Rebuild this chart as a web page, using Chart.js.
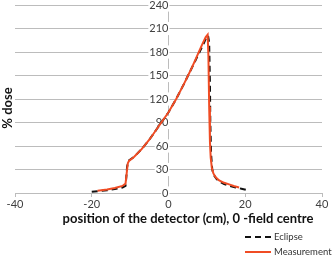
<!DOCTYPE html>
<html>
<head>
<meta charset="utf-8">
<script src="https://cdn.jsdelivr.net/npm/chart.js@4.4.1/dist/chart.umd.min.js"></script>
<style>
  html, body { margin: 0; padding: 0; background: #fff; }
  #wrap { width: 332px; height: 258px; position: relative; }
</style>
</head>
<body>
<div id="wrap"><canvas id="doseChart" width="332" height="258"></canvas></div>
<script>
// detector positions (cm) and % dose
const measPos = [-18.5, -16, -14, -12, -11.2, -10.9, -10.6, -10.3, -9, -7, -5, -3, -1, 0, 2, 4, 5, 6, 7, 8, 9, 9.7, 10.2, 10.4, 10.6, 10.8, 11.0, 11.3, 11.7, 12.3, 13.2, 14.5, 15.8, 17, 18.4];
const measDose = [3, 4.5, 6.5, 9, 12, 25, 38, 41, 46, 56, 68, 82, 96, 103, 120, 139, 149, 159, 170, 181, 192, 199, 202, 175, 110, 65, 45, 32, 25, 20, 16, 13, 11, 9, 7];

const eclPos = [-20, -18, -16, -14, -12, -11.2, -11.0, -10.8, -10.5, -9, -7, -5, -3, -1, 0, 2, 4, 6, 8, 9, 9.8, 10.3, 10.6, 10.8, 10.9, 11.1, 11.4, 11.8, 12.5, 13.2, 14.5, 16, 17.5, 19, 20.3];
const eclDose = [1.5, 2.5, 3.5, 5, 7, 9, 20, 33, 41, 46, 56, 68, 82, 96, 103, 120, 139, 159, 179, 189, 198, 201, 192, 140, 90, 50, 30, 23, 18, 14.5, 11.5, 9, 7, 5.5, 4];

const xTicks = [-40, -20, 0, 20, 40];
const yTicks = [0, 30, 60, 90, 120, 150, 180, 210, 240];

const xTitle = 'position of the detector (cm), 0 -field centre';
const yTitle = '% dose';
const seriesNames = ['Eclipse', 'Measurement'];

const RED = 'rgb(240, 76, 36)';
const GRID = '#bcbcbc';
const FONT = 'Lato, "Open Sans", sans-serif';

function toPoints(xs, ys) {
  return xs.map((x, i) => ({ x: x, y: ys[i] }));
}

// axis titles + legend drawn by hand, Excel style
const extras = {
  id: 'extras',
  afterDraw(chart) {
    const ctx = chart.ctx;
    ctx.save();
    ctx.fillStyle = '#111';
    ctx.font = 'bold 13px ' + FONT;
    ctx.textAlign = 'center';
    ctx.textBaseline = 'middle';
    ctx.fillText(xTitle, 188, 219);

    ctx.translate(8, 108);
    ctx.rotate(-Math.PI / 2);
    ctx.fillText(yTitle, 0, 0);
    ctx.restore();

    // legend
    ctx.save();
    ctx.lineWidth = 2;
    ctx.strokeStyle = '#111';
    ctx.setLineDash([6, 4]);
    ctx.beginPath();
    ctx.moveTo(245, 237);
    ctx.lineTo(271, 237);
    ctx.stroke();
    ctx.setLineDash([]);
    ctx.strokeStyle = RED;
    ctx.beginPath();
    ctx.moveTo(245, 252);
    ctx.lineTo(271, 252);
    ctx.stroke();
    ctx.fillStyle = '#333';
    ctx.font = '9.5px ' + FONT;
    ctx.textAlign = 'left';
    ctx.textBaseline = 'middle';
    ctx.fillText(seriesNames[0], 274, 237);
    ctx.fillText(seriesNames[1], 274, 252);
    ctx.restore();
  }
};

const ctx = document.getElementById('doseChart').getContext('2d');
new Chart(ctx, {
  type: 'line',
  data: {
    datasets: [
      {
        label: seriesNames[0],
        data: toPoints(eclPos, eclDose),
        borderColor: '#111',
        borderWidth: 2,
        borderDash: [6, 4],
        pointRadius: 0,
        tension: 0,
        order: 1
      },
      {
        label: seriesNames[1],
        data: toPoints(measPos, measDose),
        borderColor: RED,
        borderWidth: 2,
        pointRadius: 0,
        tension: 0,
        order: 0
      }
    ]
  },
  options: {
    responsive: false,
    animation: false,
    layout: { padding: { left: 15, right: 10, top: 5, bottom: 0 } },
    plugins: {
      legend: { display: false },
      tooltip: { enabled: false }
    },
    scales: {
      x: {
        type: 'linear',
        min: -40,
        max: 40,
        afterBuildTicks(scale) { scale.ticks = xTicks.map(v => ({ value: v })); },
        afterFit(scale) { scale.height = 65; },
        grid: { drawOnChartArea: false, drawTicks: true, tickLength: 4, color: GRID },
        border: { color: GRID },
        ticks: { color: '#404040', font: { family: FONT, size: 11 }, padding: 1, maxRotation: 0 }
      },
      y: {
        type: 'linear',
        position: { x: 0 },
        min: 0,
        max: 240,
        afterBuildTicks(scale) { scale.ticks = yTicks.map(v => ({ value: v })); },
        afterFit(scale) { scale.paddingTop = 0; scale.paddingBottom = 0; },
        grid: { color: GRID, drawTicks: false },
        border: { color: GRID },
        ticks: {
          color: '#404040',
          font: { family: FONT, size: 11 },
          padding: 8,
          showLabelBackdrop: true,
          backdropColor: '#fff',
          backdropPadding: { top: 0, bottom: 0, left: 1, right: 1 }
        }
      }
    }
  },
  plugins: [extras]
});
</script>
</body>
</html>
